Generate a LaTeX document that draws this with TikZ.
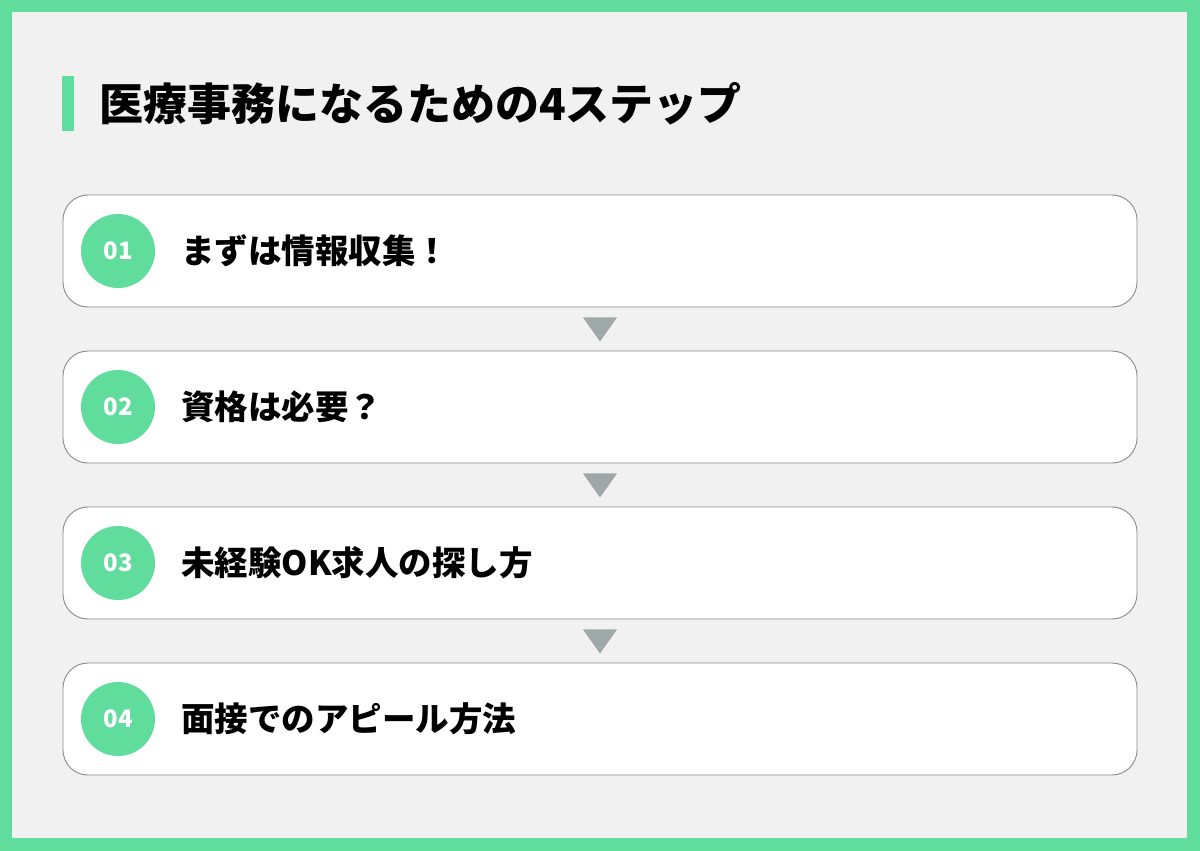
\documentclass[tikz,border=0pt]{standalone}
\usepackage{fontspec}
\newfontfamily\jp{Noto Sans CJK JP}
\usetikzlibrary{positioning}

\definecolor{framegreen}{HTML}{60DD9D}
\definecolor{pagegray}{HTML}{F1F1F1}
\definecolor{arrowgray}{HTML}{9EA9A7}
\definecolor{edgegray}{HTML}{8A8A8A}

\tikzset{
  stepbox/.style={draw=edgegray, line width=0.9pt, fill=white, rounded corners=25pt,
    minimum width=1074pt, minimum height=112pt, inner sep=0pt},
  numdot/.style={circle, fill=framegreen, minimum size=74pt, inner sep=0pt,
    text=white, font=\jp\bfseries\fontsize{24}{24}\selectfont},
  steptext/.style={anchor=west, inner sep=0pt, font=\jp\bfseries\fontsize{33.5}{33.5}\selectfont}
}

\begin{document}
\begin{tikzpicture}[x=1pt,y=-1pt]

% Draw frame and background
\fill[framegreen] (0,0) rectangle (1200,851);
\fill[pagegray] (12,12) rectangle (1187,838);
\useasboundingbox (0,0) rectangle (1200,851);

% Draw title with its bar
\fill[framegreen] (62,76) rectangle (74,131);
\node[anchor=west, inner sep=0pt, font=\jp\bfseries\fontsize{44}{44}\selectfont] (title) at (99,104) {医療事務になるための4ステップ};

% Draw the step boxes with number and text
\foreach \i/\y/\t in {1/251/まずは情報収集！, 2/407/資格は必要？, 3/563/未経験OK求人の探し方, 4/719/面接でのアピール方法} {
    \node[stepbox] (step\i) at (600,\y) {};
    \node[numdot] (num\i) at (118,\y) {0\i};
    \node[steptext] (label\i) at (181,\y) {\t};
}

% Draw the down triangles between steps
\foreach \i/\j in {1/2, 2/3, 3/4} {
    \fill[arrowgray] ([xshift=-17pt,yshift=-10pt]step\i.south) -- ([xshift=17pt,yshift=-10pt]step\i.south) -- ([yshift=9pt]step\j.north) -- cycle;
}

\end{tikzpicture}
\end{document}
